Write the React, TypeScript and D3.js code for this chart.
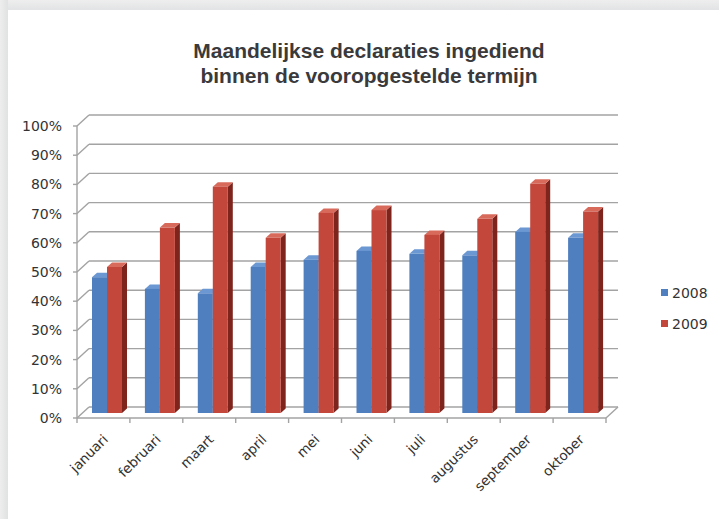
import React from "react";
import * as d3 from "d3";

const months = ["januari", "februari", "maart", "april", "mei", "juni", "juli", "augustus", "september", "oktober"];
const series2008 = [0.465, 0.425, 0.41, 0.50, 0.525, 0.555, 0.545, 0.54, 0.62, 0.60];
const series2009 = [0.50, 0.635, 0.775, 0.60, 0.685, 0.695, 0.61, 0.665, 0.785, 0.69];
const yTicks = [0, 0.1, 0.2, 0.3, 0.4, 0.5, 0.6, 0.7, 0.8, 0.9, 1.0];
const seriesNames = ["2008", "2009"];
const titleLines = ["Maandelijkse declaraties ingediend", "binnen de vooropgestelde termijn"];

const W = 719, H = 519;
const DX = 12, DY = -11; // full depth offset
const x = d3.scaleBand<string>().domain(months).range([77, 606]).paddingInner(0).paddingOuter(0);
const yFront = d3.scaleLinear().domain([0, 1]).range([418, 126]);
const yBar = d3.scaleLinear().domain([0, 1]).range([413, 121]);

const colors = [
  { front: "#4f7fbf", side: "#2f5484", top: "#6b97d2" },
  { front: "#c4473b", side: "#7e241d", top: "#d86a5c" },
];

const BW = 15, BDX = 5, BDY = -4.5;

function Bar({ x0, v, c }: { x0: number; v: number; c: { front: string; side: string; top: string } }) {
  const y0 = yBar(0), y1 = yBar(v), x1 = x0 + BW;
  const side = `M${x1},${y0}L${x1},${y1}L${x1 + BDX},${y1 + BDY}L${x1 + BDX},${y0 + BDY}Z`;
  const top = `M${x0},${y1}L${x1},${y1}L${x1 + BDX},${y1 + BDY}L${x0 + BDX},${y1 + BDY}Z`;
  return (
    <g>
      <path d={side} fill={c.side} />
      <path d={top} fill={c.top} />
      <rect x={x0} y={y1} width={BW} height={y0 - y1} fill={c.front} />
    </g>
  );
}

export default function App() {
  const gridColor = "#a3a3a3";
  const textColor = "#333333";
  const axisFont = "'DejaVu Sans', sans-serif";
  const left = 77, right = 606;
  return (
    <svg width={W} height={H} style={{ position: "absolute", left: 0, top: 0 }} xmlns="http://www.w3.org/2000/svg">
      <defs>
        <linearGradient id="topband" x1="0" y1="0" x2="0" y2="1">
          <stop offset="0" stopColor="#eeeeee" />
          <stop offset="1" stopColor="#e2e3e4" />
        </linearGradient>
        <linearGradient id="leftband" x1="0" y1="0" x2="1" y2="0">
          <stop offset="0" stopColor="#eeeeee" />
          <stop offset="1" stopColor="#e0e1e2" />
        </linearGradient>
      </defs>
      <rect x={0} y={0} width={W} height={H} fill="#ffffff" />
      <rect x={0} y={0} width={W} height={10} fill="url(#topband)" />
      <rect x={0} y={0} width={8} height={H} fill="url(#leftband)" />

      {/* title */}
      <g fontFamily="'Liberation Sans', Arial, sans-serif" fontWeight="bold" fontSize={21} fill="#3a3a3c" textAnchor="middle">
        {titleLines.map((t, i) => (
          <text key={i} x={369} y={58 + i * 25}>{t}</text>
        ))}
      </g>

      {/* walls: back gridlines and left wall slants */}
      <g stroke={gridColor} strokeWidth={1.4} fill="none">
        {yTicks.map((t) => (
          <g key={t}>
            <line x1={left} y1={yFront(t)} x2={left + DX} y2={yFront(t) + DY} />
            <line x1={left + DX} y1={yFront(t) + DY} x2={right + DX} y2={yFront(t) + DY} />
            <line x1={left - 4} y1={yFront(t)} x2={left} y2={yFront(t)} />
          </g>
        ))}
        <line x1={left} y1={yFront(0)} x2={left} y2={yFront(1)} />
        <line x1={left} y1={yFront(0)} x2={right} y2={yFront(0)} />
        <line x1={right} y1={yFront(0)} x2={right + DX} y2={yFront(0) + DY} />
        {months.map((m) => (
          <line key={m} x1={x(m)!} y1={yFront(0)} x2={x(m)!} y2={yFront(0) + 5} />
        ))}
        <line x1={right} y1={yFront(0)} x2={right} y2={yFront(0) + 5} />
      </g>

      {/* bars */}
      {months.map((m, i) => {
        const bx = x(m)! + 15;
        return (
          <g key={m}>
            <Bar x0={bx} v={series2008[i]} c={colors[0]} />
            <Bar x0={bx + BW} v={series2009[i]} c={colors[1]} />
          </g>
        );
      })}

      {/* y labels */}
      <g fontFamily={axisFont} fontSize={14} fill={textColor} textAnchor="end">
        {yTicks.map((t) => (
          <text key={t} x={62} y={yFront(t) + 5}>{d3.format(".0%")(t)}</text>
        ))}
      </g>

      {/* x labels */}
      <g fontFamily={axisFont} fontSize={13.5} fill={textColor} textAnchor="end">
        {months.map((m) => {
          const cx = x(m)! + x.bandwidth() / 2 + 2;
          const cy = 437;
          return (
            <text key={m} transform={`translate(${cx},${cy}) rotate(-45)`} dy="0.35em">{m}</text>
          );
        })}
      </g>

      {/* legend */}
      <g fontFamily={axisFont} fontSize={14} fill={textColor}>
        {seriesNames.map((s, i) => (
          <g key={s} transform={`translate(661,${289 + i * 31})`}>
            <rect x={0} y={0} width={7} height={7} fill={colors[i].front} />
            <text x={11} y={9}>{s}</text>
          </g>
        ))}
      </g>
    </svg>
  );
}
